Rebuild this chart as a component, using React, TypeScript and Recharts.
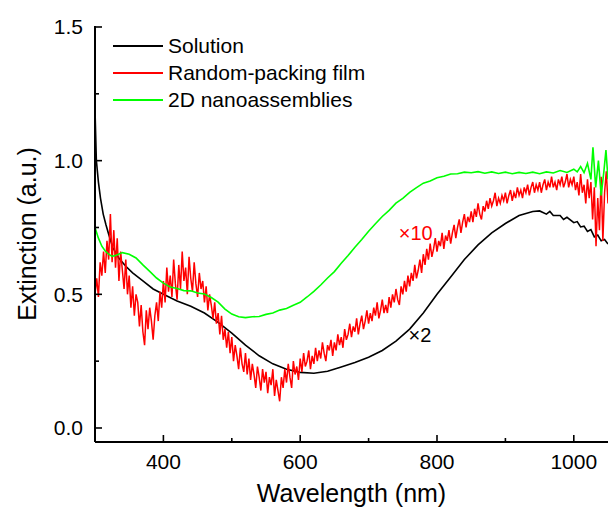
import React from 'react';
import { LineChart, Line, XAxis, YAxis, Legend, ReferenceDot } from 'recharts';

const FONT = '"Liberation Sans", Arial, Helvetica, sans-serif';

const xTicks = [400, 500, 600, 700, 800, 900, 1000];
const xLabelled = [400, 600, 800, 1000];
const yTicks = [0, 0.25, 0.5, 0.75, 1, 1.25, 1.5];
const yLabelled = [0, 0.5, 1, 1.5];
const seriesNames = ['Solution', 'Random-packing film', '2D nanoassemblies'];

// Solution (x2), [wavelength, extinction]
const solution = [
  [300, 1.19], [302, 1.0], [305, 0.92], [308, 0.86], [312, 0.8], [316, 0.76], [320, 0.725],
  [326, 0.675], [335, 0.635], [345, 0.605], [355, 0.58], [370, 0.55], [385, 0.52], [400, 0.5],
  [420, 0.475], [440, 0.455], [460, 0.43], [480, 0.395], [500, 0.355], [520, 0.31], [540, 0.27],
  [560, 0.24], [580, 0.22], [600, 0.208], [620, 0.205], [640, 0.212], [660, 0.228], [680, 0.245],
  [700, 0.265], [720, 0.29], [740, 0.325], [760, 0.37], [780, 0.43], [800, 0.5], [820, 0.565],
  [840, 0.63], [860, 0.685], [880, 0.73], [900, 0.765], [920, 0.795], [940, 0.81], [950, 0.812],
  [960, 0.8], [965, 0.81], [970, 0.795], [980, 0.795], [985, 0.78], [990, 0.788], [1000, 0.768],
  [1005, 0.772], [1010, 0.752], [1015, 0.755], [1020, 0.735], [1025, 0.742], [1030, 0.715],
  [1035, 0.722], [1040, 0.7], [1045, 0.705], [1050, 0.688],
];

// Random-packing film (x10), one value every 2.5 nm from 300 to 1050 (rows of 25 nm)
const filmStart = 300;
const filmStep = 2.5;
const filmValues = [
  0.50, 0.56, 0.49, 0.62, 0.57, 0.66, 0.58, 0.70, 0.63, 0.80,
  0.62, 0.74, 0.60, 0.71, 0.55, 0.66, 0.59, 0.52, 0.63, 0.50,
  0.57, 0.45, 0.53, 0.42, 0.50, 0.47, 0.38, 0.46, 0.36, 0.31,
  0.44, 0.37, 0.45, 0.40, 0.33, 0.42, 0.47, 0.40, 0.51, 0.45,
  0.55, 0.47, 0.60, 0.51, 0.57, 0.49, 0.63, 0.54, 0.48, 0.61,
  0.52, 0.66, 0.55, 0.60, 0.50, 0.64, 0.56, 0.51, 0.62, 0.54,
  0.49, 0.58, 0.52, 0.55, 0.47, 0.53, 0.44, 0.50, 0.46, 0.41,
  0.47, 0.39, 0.43, 0.35, 0.42, 0.33, 0.37, 0.30, 0.36, 0.28,
  0.34, 0.25, 0.31, 0.27, 0.22, 0.30, 0.24, 0.21, 0.28, 0.20,
  0.26, 0.18, 0.24, 0.20, 0.15, 0.23, 0.19, 0.14, 0.22, 0.17,
  0.21, 0.13, 0.19, 0.16, 0.22, 0.12, 0.18, 0.14, 0.10, 0.19,
  0.15, 0.22, 0.17, 0.24, 0.19, 0.15, 0.25, 0.20, 0.23, 0.18,
  0.26, 0.21, 0.28, 0.23, 0.25, 0.29, 0.22, 0.27, 0.24, 0.30,
  0.25, 0.29, 0.26, 0.32, 0.28, 0.25, 0.31, 0.29, 0.33, 0.27,
  0.32, 0.29, 0.35, 0.31, 0.34, 0.30, 0.37, 0.33, 0.35, 0.39,
  0.34, 0.38, 0.36, 0.41, 0.35, 0.39, 0.42, 0.37, 0.40, 0.44,
  0.39, 0.43, 0.40, 0.45, 0.42, 0.47, 0.41, 0.44, 0.48, 0.43,
  0.46, 0.43, 0.49, 0.45, 0.50, 0.47, 0.52, 0.48, 0.46, 0.53,
  0.50, 0.55, 0.51, 0.57, 0.53, 0.58, 0.55, 0.61, 0.56, 0.59,
  0.63, 0.58, 0.65, 0.61, 0.67, 0.63, 0.69, 0.64, 0.67, 0.71,
  0.66, 0.70, 0.68, 0.73, 0.67, 0.72, 0.70, 0.74, 0.69, 0.73,
  0.76, 0.71, 0.75, 0.78, 0.73, 0.77, 0.80, 0.75, 0.79, 0.77,
  0.81, 0.77, 0.82, 0.79, 0.84, 0.80, 0.78, 0.83, 0.81, 0.85,
  0.82, 0.86, 0.83, 0.85, 0.88, 0.83, 0.86, 0.84, 0.87, 0.85,
  0.88, 0.84, 0.87, 0.89, 0.85, 0.88, 0.86, 0.90, 0.87, 0.89,
  0.86, 0.90, 0.88, 0.91, 0.87, 0.90, 0.92, 0.88, 0.91, 0.89,
  0.92, 0.88, 0.91, 0.93, 0.89, 0.92, 0.90, 0.94, 0.90, 0.92,
  0.89, 0.93, 0.91, 0.94, 0.90, 0.92, 0.95, 0.90, 0.93, 0.91,
  0.94, 0.89, 0.92, 0.87, 0.95, 0.88, 0.91, 0.84, 0.93, 0.86,
  0.92, 0.78, 0.90, 0.68, 0.86, 0.74, 0.94, 0.70, 0.88, 0.96,
  0.84,
];

// 2D nanoassemblies
const nanoassemblies = [
  [300, 0.75], [305, 0.71], [310, 0.68], [315, 0.662], [320, 0.65], [325, 0.642], [330, 0.645],
  [340, 0.656], [350, 0.65], [360, 0.636], [370, 0.61], [380, 0.586], [390, 0.561], [400, 0.542],
  [410, 0.527], [420, 0.522], [430, 0.514], [440, 0.513], [450, 0.505], [460, 0.501], [470, 0.488],
  [480, 0.471], [490, 0.445], [500, 0.426], [510, 0.416], [520, 0.413], [530, 0.416], [540, 0.417],
  [550, 0.425], [560, 0.43], [570, 0.441], [580, 0.447], [590, 0.459], [600, 0.47], [610, 0.49],
  [620, 0.511], [630, 0.535], [640, 0.561], [650, 0.585], [660, 0.616], [670, 0.645], [680, 0.676],
  [690, 0.705], [700, 0.736], [710, 0.764], [720, 0.791], [730, 0.814], [740, 0.841], [750, 0.859],
  [760, 0.881], [770, 0.899], [780, 0.916], [790, 0.924], [800, 0.936], [810, 0.942], [820, 0.95],
  [830, 0.951], [840, 0.957], [850, 0.955], [860, 0.959], [870, 0.953], [880, 0.958], [890, 0.952],
  [900, 0.957], [910, 0.951], [920, 0.956], [930, 0.952], [940, 0.957], [950, 0.951], [960, 0.958],
  [970, 0.954], [980, 0.963], [990, 0.956], [1000, 0.968], [1005, 0.958], [1010, 0.978],
  [1015, 0.955], [1020, 0.99], [1025, 0.93], [1028, 1.05], [1032, 0.9], [1036, 1.0], [1040, 0.87],
  [1044, 0.96], [1047, 1.04], [1050, 0.93],
];

const solutionData = solution.map(([x, y]) => ({ x, y }));
const filmData = filmValues.map((y, i) => ({ x: filmStart + i * filmStep, y }));
const nanoData = nanoassemblies.map(([x, y]) => ({ x, y }));

const XTick = (props: any) => {
  const { x, y, payload } = props;
  const major = xLabelled.includes(payload.value);
  return (
    <g>
      <line x1={x} x2={x} y1={y} y2={y - (major ? 7 : 4)} stroke="#000" strokeWidth={1.6} />
      {major && (
        <text x={x} y={y + 27} textAnchor="middle" fontSize={21} fontFamily={FONT} fill="#000">
          {payload.value}
        </text>
      )}
    </g>
  );
};

const YTick = (props: any) => {
  const { x, y, payload } = props;
  const major = yLabelled.includes(payload.value);
  return (
    <g>
      <line x1={x} x2={x + (major ? 7 : 4)} y1={y} y2={y} stroke="#000" strokeWidth={1.6} />
      {major && (
        <text x={x - 12} y={y + 7.5} textAnchor="end" fontSize={21} fontFamily={FONT} fill="#000">
          {payload.value.toFixed(1)}
        </text>
      )}
    </g>
  );
};

const renderLegend = (props: any) => {
  const items = [...props.payload].sort(
    (a: any, b: any) => seriesNames.indexOf(a.value) - seriesNames.indexOf(b.value)
  );
  return (
    <div style={{ fontFamily: FONT, fontSize: 21, color: '#000' }}>
      {items.map((p: any) => (
        <div key={p.value} style={{ display: 'flex', alignItems: 'center', height: 27, whiteSpace: 'nowrap' }}>
          <span style={{ display: 'inline-block', width: 50, height: 2, background: p.color, marginRight: 5 }} />
          <span>{p.value}</span>
        </div>
      ))}
    </div>
  );
};

const App = () => {
  return (
    <div style={{ position: 'absolute', left: 0, top: 0, background: '#fff' }}>
      <LineChart width={609} height={511} margin={{ top: 26, right: 1, bottom: 0, left: 0 }}>
        <XAxis
          dataKey="x"
          type="number"
          domain={[300, 1050]}
          ticks={xTicks}
          interval={0}
          allowDataOverflow
          height={69}
          tickSize={0}
          tickMargin={0}
          tick={<XTick />}
          axisLine={{ stroke: '#000', strokeWidth: 2 }}
          label={{
            content: (p: any) => (
              <text
                x={p.viewBox.x + p.viewBox.width / 2}
                y={p.viewBox.y + 60}
                textAnchor="middle"
                fontSize={25}
                fontFamily={FONT}
                fill="#000"
              >
                Wavelength (nm)
              </text>
            ),
          }}
        />
        <XAxis xAxisId="top" orientation="top" type="number" domain={[300, 1050]} height={0} tick={false} tickLine={false} axisLine={{ stroke: '#000', strokeWidth: 1.6 }} />
        <YAxis
          type="number"
          domain={[-0.0524, 1.5037]}
          ticks={yTicks}
          interval={0}
          allowDataOverflow
          width={95}
          tickSize={0}
          tickMargin={0}
          tick={<YTick />}
          axisLine={{ stroke: '#000', strokeWidth: 2 }}
          label={{
            content: (p: any) => {
              const cy = p.viewBox.y + p.viewBox.height / 2;
              return (
                <text
                  x={36}
                  y={cy}
                  transform={`rotate(-90 36 ${cy})`}
                  textAnchor="middle"
                  fontSize={25}
                  fontFamily={FONT}
                  fill="#000"
                >
                  Extinction (a.u.)
                </text>
              );
            },
          }}
        />
        <YAxis yAxisId="right" orientation="right" type="number" domain={[-0.0524, 1.5037]} width={0} tick={false} tickLine={false} axisLine={{ stroke: '#000', strokeWidth: 1.6 }} />
        <Legend
          layout="vertical"
          align="center"
          verticalAlign="middle"
          content={renderLegend}
          wrapperStyle={{ left: 113, top: 32, width: 'auto', height: 'auto' }}
        />
        <Line data={solutionData} dataKey="y" name="Solution" stroke="#000000" strokeWidth={1.6} dot={false} isAnimationActive={false} />
        <Line data={filmData} dataKey="y" name="Random-packing film" stroke="#ff0000" strokeWidth={1.5} dot={false} isAnimationActive={false} />
        <Line data={nanoData} dataKey="y" name="2D nanoassemblies" stroke="#00ff00" strokeWidth={1.6} dot={false} isAnimationActive={false} />
        <ReferenceDot x={769} y={0.731} r={0} fill="none" stroke="none" label={{ value: '×10', position: 'center', fill: '#ff0000', fontSize: 20, fontFamily: FONT }} />
        <ReferenceDot x={775} y={0.347} r={0} fill="none" stroke="none" label={{ value: '×2', position: 'center', fill: '#000000', fontSize: 20, fontFamily: FONT }} />
      </LineChart>
    </div>
  );
};

export default App;
